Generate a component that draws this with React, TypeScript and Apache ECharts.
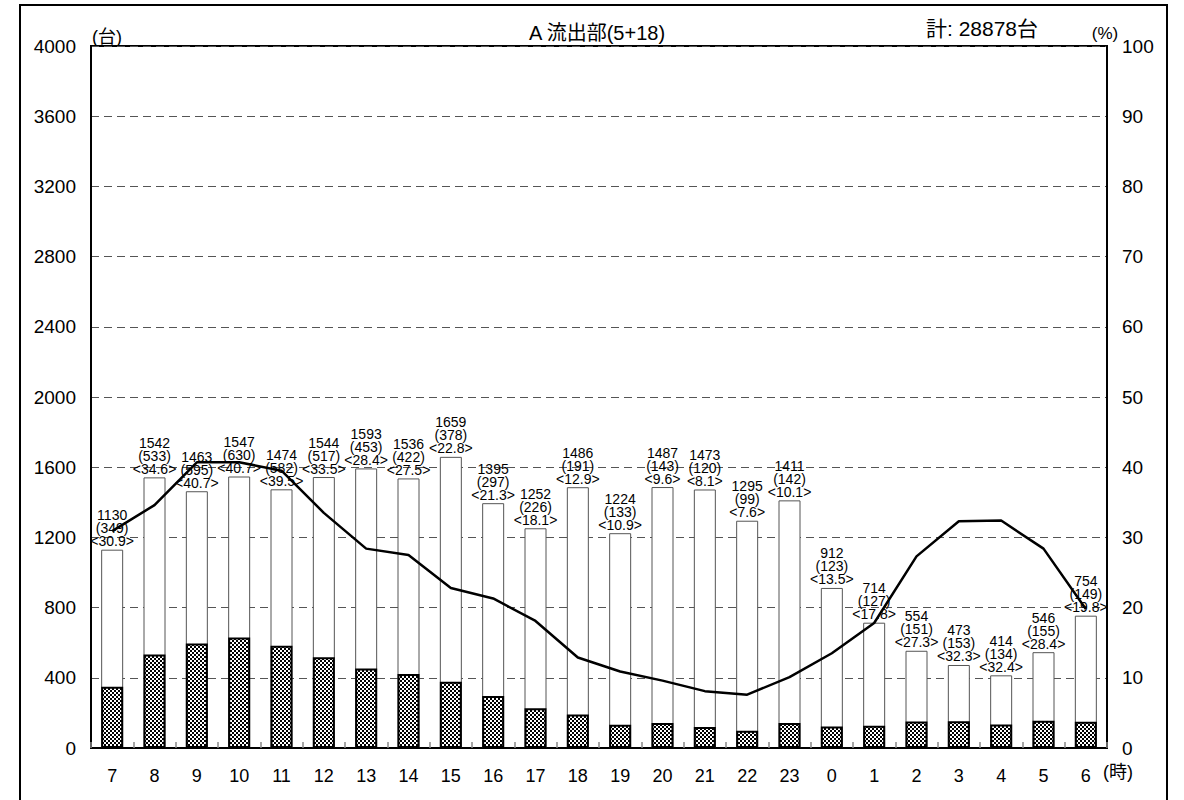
import React, { useEffect, useRef } from "react";
import * as echarts from "echarts";

const hours = ["7", "8", "9", "10", "11", "12", "13", "14", "15", "16", "17", "18", "19", "20", "21", "22", "23", "0", "1", "2", "3", "4", "5", "6"];
const totals = [1130, 1542, 1463, 1547, 1474, 1544, 1593, 1536, 1659, 1395, 1252, 1486, 1224, 1487, 1473, 1295, 1411, 912, 714, 554, 473, 414, 546, 754];
const large = [349, 533, 595, 630, 582, 517, 453, 422, 378, 297, 226, 191, 133, 143, 120, 99, 142, 123, 127, 151, 153, 134, 155, 149];
const ratio = [30.9, 34.6, 40.7, 40.7, 39.5, 33.5, 28.4, 27.5, 22.8, 21.3, 18.1, 12.9, 10.9, 9.6, 8.1, 7.6, 10.1, 13.5, 17.8, 27.3, 32.3, 32.4, 28.4, 19.8];

const title = "A 流出部(5+18)";
const totalText = "計: 28878台";

const FONT = "'Liberation Sans', Arial, 'Noto Sans CJK JP', sans-serif";

function makePattern(): HTMLCanvasElement {
  const c = document.createElement("canvas");
  c.width = 4;
  c.height = 4;
  const ctx = c.getContext("2d")!;
  ctx.fillStyle = "#fff";
  ctx.fillRect(0, 0, 4, 4);
  ctx.fillStyle = "#000";
  ctx.fillRect(0, 0, 2, 2);
  ctx.fillRect(2, 2, 2, 2);
  return c;
}

export default function App() {
  const ref = useRef<HTMLDivElement>(null);
  useEffect(() => {
    document.body.style.margin = "0";
    const chart = echarts.init(ref.current!, null, { renderer: "svg" });
    const pattern = makePattern();
    chart.setOption({
      animation: false,
      backgroundColor: "#fff",
      textStyle: { fontFamily: FONT },
      grid: {
        left: 91,
        top: 46,
        right: 77,
        bottom: 52,
        show: true,
        borderColor: "#000",
        borderWidth: 2,
        backgroundColor: "transparent",
      },
      xAxis: {
        type: "category",
        data: hours,
        axisLine: { show: true, lineStyle: { color: "#000", width: 2 } },
        axisTick: { show: true, inside: true, length: 6, lineStyle: { color: "#888", width: 1.5 } },
        axisLabel: { fontSize: 18, color: "#000", margin: 19, fontFamily: FONT },
        splitLine: { show: false },
      },
      yAxis: [
        {
          type: "value",
          min: 0,
          max: 4000,
          interval: 400,
          axisLine: { show: true, lineStyle: { color: "#000", width: 2 } },
          axisTick: { show: false },
          axisLabel: { fontSize: 19, color: "#000", margin: 15, fontFamily: FONT, formatter: (v: number) => String(v) },
          splitLine: { show: true, lineStyle: { color: "#555", width: 1.2, type: [8, 5] } },
        },
        {
          type: "value",
          min: 0,
          max: 100,
          interval: 10,
          position: "right",
          axisLine: { show: true, lineStyle: { color: "#000", width: 2 } },
          axisTick: { show: false },
          axisLabel: { fontSize: 19, color: "#000", margin: 15, fontFamily: FONT, formatter: (v: number) => String(v) },
          splitLine: { show: false },
        },
      ],
      series: [
        {
          type: "bar",
          data: totals,
          barWidth: 22,
          barGap: "-100%",
          itemStyle: { color: "#fff", borderColor: "#555", borderWidth: 1 },
          label: {
            show: true,
            position: "top",
            distance: 2,
            fontSize: 14,
            lineHeight: 13,
            color: "#000",
            fontFamily: FONT,
            formatter: (p: any) =>
              `${totals[p.dataIndex]}\n(${large[p.dataIndex]})\n<${ratio[p.dataIndex].toFixed(1)}>`,
          },
          z: 2,
        },
        {
          type: "bar",
          data: large,
          barWidth: 22,
          barGap: "-100%",
          itemStyle: {
            color: { image: pattern, repeat: "repeat" },
            borderColor: "#000",
            borderWidth: 2,
          },
          z: 3,
        },
        {
          type: "line",
          yAxisIndex: 1,
          data: ratio,
          symbol: "none",
          lineStyle: { color: "#000", width: 2.5 },
          z: 5,
        },
      ],
      graphic: [
        {
          type: "rect",
          shape: { x: 20, y: 5, width: 1147, height: 820 },
          style: { fill: "none", stroke: "#000", lineWidth: 2 },
          silent: true,
        },
        {
          type: "text",
          x: 597,
          y: 33,
          style: { text: title, fill: "#000", font: `20px ${FONT}`, textAlign: "center", textVerticalAlign: "middle" },
        },
        {
          type: "text",
          x: 982,
          y: 28,
          style: { text: totalText, fill: "#000", font: `21px ${FONT}`, textAlign: "center", textVerticalAlign: "middle" },
        },
        {
          type: "text",
          x: 107,
          y: 37,
          style: { text: "(台)", fill: "#000", font: `18px ${FONT}`, textAlign: "center", textVerticalAlign: "middle" },
        },
        {
          type: "text",
          x: 1105,
          y: 33,
          style: { text: "(%)", fill: "#000", font: `17px ${FONT}`, textAlign: "center", textVerticalAlign: "middle" },
        },
        {
          type: "text",
          x: 1118,
          y: 772,
          style: { text: "(時)", fill: "#000", font: `18px ${FONT}`, textAlign: "center", textVerticalAlign: "middle" },
        },
      ],
    });
    return () => chart.dispose();
  }, []);
  return <div ref={ref} style={{ width: 1184, height: 800 }} />;
}
